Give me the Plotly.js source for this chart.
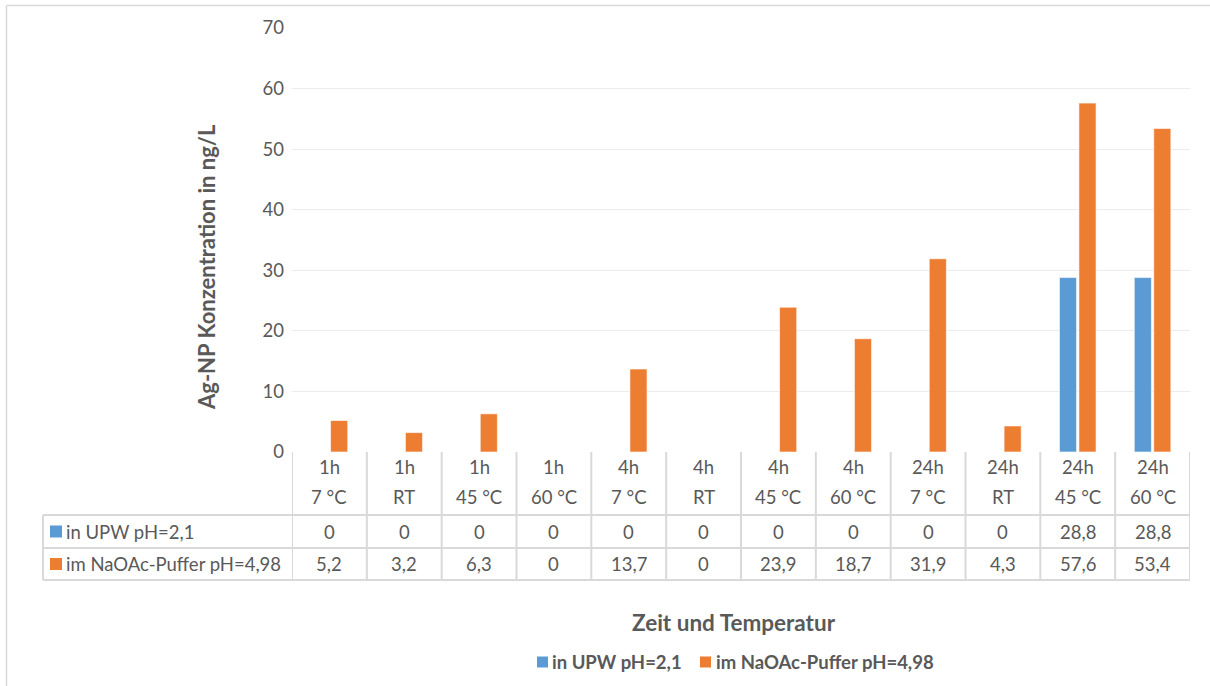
<!DOCTYPE html>
<html><head><meta charset="utf-8">
<script src="https://cdn.plot.ly/plotly-3.0.1.min.js"></script>
<style>html,body{margin:0;padding:0;background:#fff}#chart{width:1210px;height:686px}</style>
</head><body><div id="chart"></div>
<script>
const timeLabels = ["1h","1h","1h","1h","4h","4h","4h","4h","24h","24h","24h","24h"];
const tempLabels = ["7 °C","RT","45 °C","60 °C","7 °C","RT","45 °C","60 °C","7 °C","RT","45 °C","60 °C"];
const seriesNames = ["in UPW pH=2,1","im NaOAc-Puffer pH=4,98"];
const upw = [0,0,0,0,0,0,0,0,0,0,28.8,28.8];
const naoac = [5.2,3.2,6.3,0,13.7,0,23.9,18.7,31.9,4.3,57.6,53.4];
const yTicks = [0,10,20,30,40,50,60,70];

const colors = ["#5b9bd5","#ed7d31"];
const font = "Lato, 'Open Sans', sans-serif";
const txt = "#595959";
const W = 1210, H = 686, L = 292, R = 20, T = 28, B = 234;
const pw = W - L - R, ph = H - T - B;
const px2x = p => (p - L) / pw;
const py2y = p => (H - B - p) / ph;

const idx = timeLabels.map((_, i) => i);
const fmt = v => String(v).replace(".", ",");

const traces = [upw, naoac].map((vals, s) => ({
  type: "bar", name: seriesNames[s], x: idx, y: vals,
  marker: {color: colors[s], line: {color: "rgba(255,255,255,0.6)", width: 1}},
  hoverinfo: "y"
}));

const lineC = "#d9d9d9";
const shapes = [];
const yHeadBot = py2y(515), yRow1 = py2y(548), yRow2 = py2y(580);
for (let k = 0; k <= idx.length; k++) {
  shapes.push({type: "line", xref: "x", yref: "paper", x0: k - 0.5, x1: k - 0.5, y0: 0, y1: yRow2,
    line: {color: lineC, width: 2}});
}
[yHeadBot, yRow1, yRow2].forEach(y => shapes.push({type: "line", xref: "paper", yref: "paper",
  x0: px2x(43), x1: 1, y0: y, y1: y, line: {color: lineC, width: 2}}));
shapes.push({type: "line", xref: "paper", yref: "paper", x0: px2x(43), x1: px2x(43), y0: yHeadBot, y1: yRow2,
  line: {color: lineC, width: 2}});
shapes.push({type: "line", xref: "paper", yref: "paper", x0: px2x(6.5), x1: px2x(1215), y0: py2y(5.5), y1: py2y(5.5),
  line: {color: lineC, width: 1.5}});
shapes.push({type: "line", xref: "paper", yref: "paper", x0: px2x(6.5), x1: px2x(6.5), y0: py2y(5.5), y1: py2y(700),
  line: {color: lineC, width: 1.5}});
[[531.5, 0], [564, 1]].forEach(([py, s]) => shapes.push({type: "rect", xref: "paper", yref: "paper",
  x0: px2x(50), x1: px2x(62), y0: py2y(py - 6), y1: py2y(py + 6), fillcolor: colors[s], line: {width: 0}}));
[[537, 0], [700, 1]].forEach(([px, s]) => shapes.push({type: "rect", xref: "paper", yref: "paper",
  x0: px2x(px), x1: px2x(px + 11), y0: py2y(656.5), y1: py2y(667.5), fillcolor: colors[s], line: {width: 0}}));

const ann = [];
const tf = {family: font, size: 18.5, color: txt};
idx.forEach(i => {
  ann.push({xref: "x", yref: "paper", x: i, y: py2y(467), text: timeLabels[i], showarrow: false, font: tf, yanchor: "middle"});
  ann.push({xref: "x", yref: "paper", x: i, y: py2y(497), text: tempLabels[i], showarrow: false, font: tf, yanchor: "middle"});
  ann.push({xref: "x", yref: "paper", x: i, y: py2y(531.5), text: fmt(upw[i]), showarrow: false, font: tf, yanchor: "middle"});
  ann.push({xref: "x", yref: "paper", x: i, y: py2y(564), text: fmt(naoac[i]), showarrow: false, font: tf, yanchor: "middle"});
});
ann.push({xref: "paper", yref: "paper", x: px2x(64), y: py2y(531.5), text: seriesNames[0], showarrow: false, font: tf, xanchor: "left", yanchor: "middle"});
ann.push({xref: "paper", yref: "paper", x: px2x(64), y: py2y(564), text: seriesNames[1], showarrow: false, font: tf, xanchor: "left", yanchor: "middle"});
ann.push({xref: "paper", yref: "paper", x: px2x(734), y: py2y(622), text: "<b>Zeit und Temperatur</b>", showarrow: false,
  font: {family: font, size: 22.5, color: txt}, yanchor: "middle"});
ann.push({xref: "paper", yref: "paper", x: px2x(550), y: py2y(662), text: "<b>" + seriesNames[0] + "</b>", showarrow: false,
  font: {family: font, size: 18.5, color: txt}, xanchor: "left", yanchor: "middle"});
ann.push({xref: "paper", yref: "paper", x: px2x(714), y: py2y(662), text: "<b>" + seriesNames[1] + "</b>", showarrow: false,
  font: {family: font, size: 18.5, color: txt}, xanchor: "left", yanchor: "middle"});
ann.push({xref: "paper", yref: "paper", x: px2x(206), y: py2y(267), text: "<b>Ag-NP Konzentration in ng/L</b>", showarrow: false,
  textangle: -90, font: {family: font, size: 22, color: txt}, xanchor: "center", yanchor: "middle"});

const layout = {
  width: W, height: H, margin: {l: L, r: R, t: T, b: B},
  paper_bgcolor: "#fff", plot_bgcolor: "#fff",
  barmode: "group", bargap: 0.48, bargroupgap: 0.12,
  showlegend: false,
  xaxis: {range: [-0.5, idx.length - 0.5], showticklabels: false, showgrid: false, zeroline: false,
    showline: false, fixedrange: true},
  yaxis: {range: [0, 70], tickvals: yTicks, ticktext: yTicks.map(String), showgrid: true, gridcolor: "#ececec", gridwidth: 1,
    zeroline: false, showline: false, ticks: "", ticklabelstandoff: 7,
    tickfont: {family: font, size: 18.5, color: txt}},
  shapes: shapes, annotations: ann
};
Plotly.newPlot("chart", traces, layout, {displayModeBar: false, staticPlot: true});
</script></body></html>
